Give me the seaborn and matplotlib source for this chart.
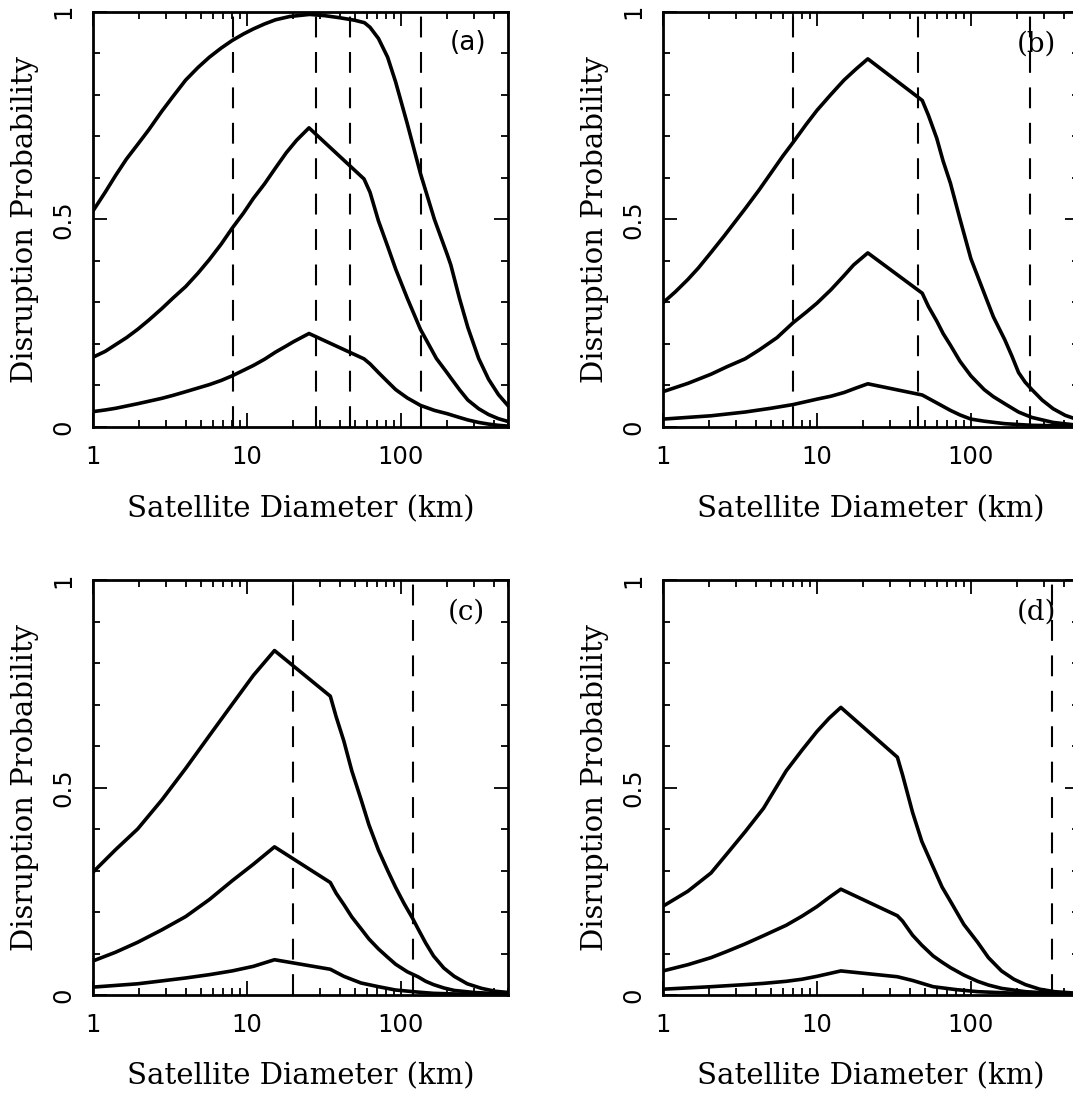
import pandas as pd
import matplotlib
matplotlib.use("Agg")
import matplotlib.pyplot as plt
import seaborn as sns
from matplotlib.ticker import FixedLocator, FixedFormatter, MultipleLocator, NullFormatter

# ================== data ==================
# panel (a)
A_TOP_D = [1, 1.2, 1.4, 1.65, 1.95, 2.3, 2.8, 3.3, 4.0, 4.8, 5.7, 6.8, 8.0, 9.5, 11, 13, 15.3, 19, 25.5, 32, 40, 50, 58,
           63, 71.5, 82, 92.5, 110, 134, 165, 200, 211, 240, 272, 320, 371, 430, 500]
A_TOP_P = [0.52, 0.565, 0.605, 0.645, 0.68, 0.715, 0.76, 0.795, 0.835, 0.865, 0.89, 0.912, 0.93, 0.946, 0.958, 0.97, 0.98,
           0.988, 0.993, 0.99, 0.985, 0.979, 0.973, 0.962, 0.935, 0.89, 0.83, 0.73, 0.61, 0.50, 0.415, 0.39, 0.31, 0.24,
           0.165, 0.115, 0.078, 0.05]
A_MID_D = [1, 1.2, 1.4, 1.65, 1.95, 2.3, 2.8, 3.3, 4.0, 4.8, 5.7, 6.8, 8.0, 9.5, 11, 13, 15.3, 18, 21, 25.3, 57.6, 63,
           71.5, 82, 92.5, 110, 134, 170, 200, 211, 240, 272, 320, 371, 430, 500]
A_MID_P = [0.168, 0.182, 0.198, 0.215, 0.235, 0.257, 0.285, 0.31, 0.338, 0.37, 0.403, 0.44, 0.478, 0.515, 0.55, 0.585,
           0.623, 0.66, 0.69, 0.72, 0.597, 0.565, 0.496, 0.435, 0.38, 0.31, 0.235, 0.165, 0.13, 0.118, 0.09, 0.065, 0.044,
           0.03, 0.02, 0.013]
A_LOW_D = [1, 1.2, 1.4, 1.95, 2.8, 3.3, 4.0, 5.7, 6.8, 8.0, 11, 13, 15.3, 18, 20, 25.3, 57.6, 63, 71.5, 82, 92.5, 110,
           134, 165, 200, 235, 272, 320, 371, 430, 500]
A_LOW_P = [0.037, 0.041, 0.045, 0.056, 0.069, 0.076, 0.085, 0.102, 0.112, 0.123, 0.148, 0.163, 0.18, 0.195, 0.205, 0.225,
           0.164, 0.152, 0.131, 0.109, 0.09, 0.07, 0.052, 0.04, 0.032, 0.024, 0.017, 0.011, 0.007, 0.004, 0.002]
A_CUTS = [8.1, 28.3, 46.5, 136]

# panel (b)
B_TOP_D = [1, 1.2, 1.45, 1.7, 2.05, 2.5, 3.41, 4.2, 5.0, 6.0, 7.0, 8.5, 10, 12.3, 15, 18, 21.4, 48.3, 53, 60, 66, 73.6,
           85, 100, 122, 140, 166, 185, 204, 225, 249, 290, 342, 410, 500]
B_TOP_P = [0.299, 0.325, 0.355, 0.383, 0.42, 0.46, 0.525, 0.57, 0.61, 0.652, 0.685, 0.728, 0.762, 0.80, 0.835, 0.862, 0.886,
           0.786, 0.75, 0.695, 0.64, 0.587, 0.50, 0.405, 0.322, 0.265, 0.21, 0.17, 0.131, 0.108, 0.09, 0.065, 0.044,
           0.028, 0.017]
B_MID_D = [1, 1.45, 2.05, 2.6, 3.41, 4.2, 5.5, 7.0, 8.5, 10, 12.3, 14.8, 17.3, 21.4, 48.3, 53, 60, 66, 73.6, 85, 100, 122,
           140, 166, 204, 249, 342, 500]
B_MID_P = [0.085, 0.105, 0.127, 0.145, 0.164, 0.185, 0.215, 0.251, 0.276, 0.298, 0.33, 0.362, 0.39, 0.419, 0.322, 0.29,
           0.255, 0.225, 0.197, 0.158, 0.123, 0.09, 0.073, 0.056, 0.036, 0.023, 0.011, 0.004]
B_LOW_D = [1, 2.05, 3.41, 5.0, 7.0, 10, 12.3, 15, 18, 21.4, 48.3, 60, 73.6, 85, 100, 122, 166, 250, 500]
B_LOW_P = [0.019, 0.027, 0.036, 0.045, 0.054, 0.067, 0.074, 0.083, 0.094, 0.104, 0.077, 0.058, 0.04, 0.029, 0.019, 0.014,
           0.008, 0.004, 0.002]
B_CUTS = [7.0, 45.5, 243]

# panel (c)
C_TOP_D = [1, 1.4, 1.95, 2.8, 4.0, 5.7, 8.0, 11, 15.1, 34.8, 38, 42.6, 48, 55, 62, 71.5, 82, 92.5, 105, 119, 129, 145,
           163, 190, 222, 270, 334, 410, 500]
C_TOP_P = [0.296, 0.35, 0.40, 0.47, 0.546, 0.625, 0.70, 0.77, 0.83, 0.72, 0.67, 0.612, 0.54, 0.472, 0.41, 0.349, 0.30,
           0.259, 0.22, 0.185, 0.16, 0.125, 0.094, 0.065, 0.045, 0.027, 0.016, 0.009, 0.006]
C_MID_D = [1, 1.4, 1.95, 2.8, 4.0, 5.7, 8.0, 11, 15.1, 34.8, 38, 42.6, 48, 55, 62, 71.5, 82, 92.5, 110, 129, 145, 163,
           190, 222, 300, 500]
C_MID_P = [0.082, 0.103, 0.127, 0.157, 0.189, 0.23, 0.275, 0.315, 0.357, 0.271, 0.245, 0.218, 0.188, 0.16, 0.135, 0.111,
           0.091, 0.074, 0.056, 0.044, 0.033, 0.025, 0.017, 0.011, 0.006, 0.002]
C_LOW_D = [1, 1.95, 2.8, 4.0, 5.7, 8.0, 11, 15.1, 34.8, 42.6, 55, 71.5, 92.5, 129, 163, 250, 500]
C_LOW_P = [0.019, 0.027, 0.034, 0.041, 0.049, 0.058, 0.069, 0.085, 0.062, 0.045, 0.029, 0.02, 0.012, 0.007, 0.004, 0.002,
           0.001]
C_CUTS = [20.0, 120]

# panel (d)
D_TOP_D = [1, 1.45, 2.05, 2.6, 3.41, 4.5, 6.31, 8.0, 10, 12, 14.3, 33.3, 36, 41.8, 48, 56.9, 65, 73.6, 90, 110.6, 130,
           158, 190, 226, 280, 350, 500]
D_TOP_P = [0.214, 0.25, 0.294, 0.34, 0.393, 0.45, 0.54, 0.59, 0.635, 0.667, 0.693, 0.573, 0.53, 0.44, 0.37, 0.308, 0.26,
           0.226, 0.17, 0.127, 0.09, 0.058, 0.038, 0.025, 0.014, 0.008, 0.004]
D_MID_D = [1, 1.45, 2.05, 2.6, 3.41, 4.5, 6.31, 8.0, 10, 12, 14.3, 33.3, 36, 41.8, 48, 56.9, 65, 73.6, 90, 110.6, 130,
           158, 226, 350, 500]
D_MID_P = [0.058, 0.073, 0.09, 0.105, 0.123, 0.143, 0.168, 0.19, 0.213, 0.235, 0.255, 0.191, 0.178, 0.144, 0.12, 0.094,
           0.079, 0.066, 0.048, 0.033, 0.024, 0.016, 0.008, 0.004, 0.002]
D_LOW_D = [1, 2.05, 3.41, 4.5, 6.31, 8.0, 10, 14.3, 33.3, 41.8, 56.9, 80, 110.6, 200, 500]
D_LOW_P = [0.014, 0.02, 0.025, 0.028, 0.033, 0.038, 0.045, 0.058, 0.044, 0.035, 0.02, 0.013, 0.008, 0.004, 0.002]
D_CUTS = [335]

PANELS = [
    ("(a)", [(A_TOP_D, A_TOP_P), (A_MID_D, A_MID_P), (A_LOW_D, A_LOW_P)], A_CUTS),
    ("(b)", [(B_TOP_D, B_TOP_P), (B_MID_D, B_MID_P), (B_LOW_D, B_LOW_P)], B_CUTS),
    ("(c)", [(C_TOP_D, C_TOP_P), (C_MID_D, C_MID_P), (C_LOW_D, C_LOW_P)], C_CUTS),
    ("(d)", [(D_TOP_D, D_TOP_P), (D_MID_D, D_MID_P), (D_LOW_D, D_LOW_P)], D_CUTS),
]
# =================================================================

W, H = 1073, 1096
# axes boxes in pixels: left, top, right, bottom (right column is cropped)
BOXES = [(93, 11.5, 508.5, 427), (663, 11.5, 1078.5, 427),
         (93, 580, 508.5, 995), (663, 580, 1078.5, 995)]

sns.set_style("ticks")
plt.rcParams["font.family"] = ["DejaVu Sans"]
plt.rcParams["text.color"] = "black"
plt.rcParams["axes.labelcolor"] = "black"
SERIF = "DejaVu Serif"


def make_frame(curves):
    rows = []
    for i, (d, p) in enumerate(curves):
        rows.append(pd.DataFrame({"diameter": d, "prob": p, "curve": i}))
    return pd.concat(rows, ignore_index=True)


fig = plt.figure(figsize=(W / 100, H / 100), dpi=100)

for (tag, curves, cuts), (l, t, r, b) in zip(PANELS, BOXES):
    ax = fig.add_axes([l / W, 1 - b / H, (r - l) / W, (b - t) / H])
    ax.set_xscale("log")
    df = make_frame(curves)
    sns.lineplot(data=df, x="diameter", y="prob", units="curve", estimator=None,
                 sort=False, color="black", linewidth=2.6, ax=ax)
    for c in cuts:
        ax.axvline(c, color="black", linewidth=1.5, linestyle=(0, (10, 7)))

    ax.set_xlim(1, 500)
    ax.set_ylim(0, 1)

    ax.xaxis.set_major_locator(FixedLocator([1, 10, 100]))
    ax.xaxis.set_major_formatter(FixedFormatter(["1", "10", "100"]))
    ax.xaxis.set_minor_locator(FixedLocator([k * 10 ** e for e in range(3) for k in range(2, 10)]))
    ax.xaxis.set_minor_formatter(NullFormatter())
    ax.yaxis.set_major_locator(FixedLocator([0, 0.5, 1]))
    ax.yaxis.set_major_formatter(FixedFormatter(["0", "0.5", "1"]))
    ax.yaxis.set_minor_locator(MultipleLocator(0.1))

    ax.tick_params(which="both", direction="in", top=True, right=True,
                   color="black", width=1.3, labelsize=17.5, labelcolor="black")
    ax.tick_params(which="major", length=10)
    ax.tick_params(which="minor", length=5)
    ax.tick_params(axis="x", pad=13)
    ax.tick_params(axis="y", pad=13, labelrotation=90)
    for lab in ax.get_yticklabels():
        lab.set_va("center")
    for s in ax.spines.values():
        s.set_linewidth(2.0)
        s.set_color("black")

    ax.set_xlabel("Satellite Diameter (km)", fontsize=21, family=SERIF)
    ax.xaxis.label.set_va("center")
    ax.xaxis.set_label_coords(0.5, -0.197)
    ax.set_ylabel("Disruption Probability", fontsize=21, family=SERIF)
    ax.yaxis.label.set_va("center")
    ax.yaxis.set_label_coords(-0.163, 0.5)

    if tag == "(a)":
        ax.text(0.902, 0.923, tag, transform=ax.transAxes, ha="center", va="center",
                fontsize=19, family="DejaVu Sans")
    else:
        ax.text(0.899, 0.922, tag, transform=ax.transAxes, ha="center", va="center",
                fontsize=20, family=SERIF)

fig.savefig("out.png", dpi=100)
